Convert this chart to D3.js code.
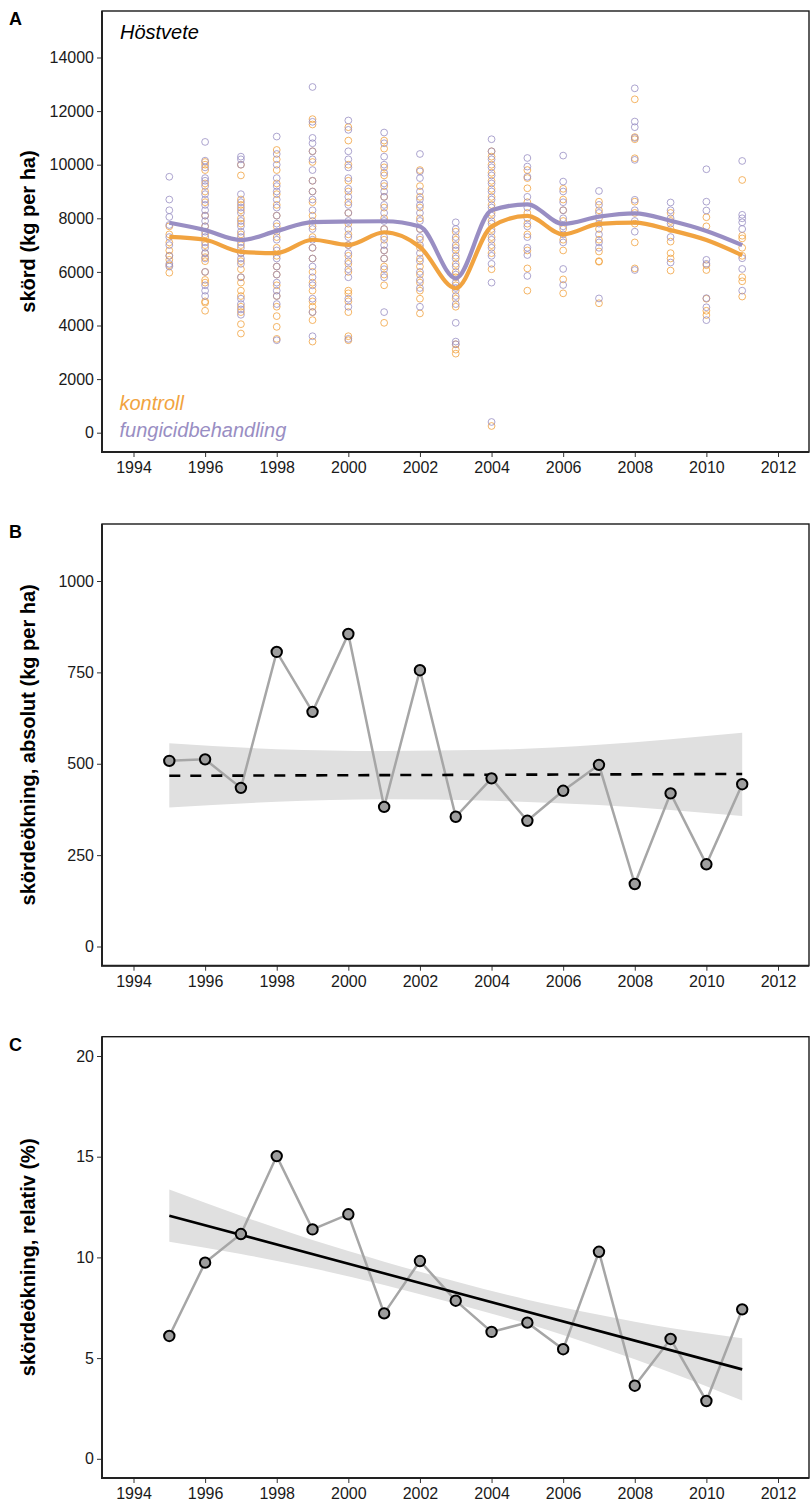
<!DOCTYPE html>
<html>
<head>
<meta charset="utf-8">
<script src="https://cdn.jsdelivr.net/npm/d3@7"></script>
<style>
  body { margin: 0; background: #fff; }
  svg text { font-family: 'Liberation Sans', Arial, sans-serif; }
</style>
</head>
<body>
<div id="chart"></div>
<script>
const years = [1995, 1996, 1997, 1998, 1999, 2000, 2001, 2002, 2003, 2004, 2005, 2006, 2007, 2008, 2009, 2010, 2011];
const yearTicks = [1994, 1996, 1998, 2000, 2002, 2004, 2006, 2008, 2010, 2012];

// panel A: single field trials, kg per ha (one list per year)
const kontrollYield = [
  [7700, 7400, 7100, 6800, 6600, 6450, 6250, 5970],
  [10100, 10000, 9800, 9300, 9000, 8600, 8100, 7700, 7400, 7000, 6700, 6550, 6400, 6000, 5700, 5600, 4900, 4850, 4550],
  [10000, 9600, 8700, 8500, 8300, 8000, 7800, 7400, 7000, 6700, 6400, 6100, 5800, 5600, 5300, 5100, 4700, 4500, 4050, 3700],
  [10550, 10200, 9800, 9300, 8900, 8500, 8100, 7700, 7300, 6900, 6600, 6200, 5900, 5500, 5100, 4700, 4350, 3950, 3500],
  [11700, 11500, 10500, 10100, 9400, 9000, 8600, 8100, 7700, 7300, 6900, 6500, 6000, 5600, 5300, 4900, 4700, 4500, 4200, 3400],
  [11400, 10900, 10000, 9400, 9000, 8600, 8200, 7800, 7400, 7000, 6600, 6300, 6000, 5300, 5200, 4900, 4500, 3600, 3450],
  [10900, 10600, 9900, 9600, 9200, 8800, 8400, 8000, 7600, 7200, 6800, 6500, 6200, 5900, 5500, 4100],
  [9800, 9200, 8800, 8400, 8000, 7600, 7200, 6900, 6500, 6200, 5900, 5600, 5300, 5000, 4450],
  [7500, 7200, 6900, 6600, 6300, 6000, 5800, 5500, 5300, 5000, 4700, 3300, 3100, 2950],
  [10500, 10300, 10000, 9700, 9400, 9100, 8800, 8500, 8200, 7900, 7600, 7300, 7000, 6700, 6100, 250],
  [9800, 9500, 9120, 8600, 8200, 7800, 7400, 6800, 6130, 5300],
  [9100, 8700, 8300, 7900, 7600, 7200, 6800, 5720, 5200],
  [8620, 8300, 8000, 7600, 7200, 6760, 6400, 6380, 4830],
  [12440, 11030, 10950, 10240, 8620, 8200, 7800, 7100, 6130],
  [8200, 7900, 7600, 7130, 6700, 6500, 6050],
  [8040, 7700, 6250, 6070, 5000, 4550, 4390],
  [9430, 7350, 7250, 6900, 6600, 5800, 5650, 5080]
];
const fungicidYield = [
  [9550, 8700, 8300, 8050, 7750, 7300, 7000, 6600, 6300, 6200],
  [10850, 10150, 9900, 9500, 9400, 9200, 8900, 8700, 8500, 8300, 8100, 7900, 7700, 7500, 7300, 7100, 6900, 6700, 6500, 6000, 5500, 5300, 5100],
  [10300, 10200, 10000, 8900, 8600, 8400, 8200, 7900, 7700, 7500, 7300, 7100, 6900, 6700, 6500, 6300, 5800, 5000, 4800, 4600, 4400],
  [11050, 10400, 10000, 9500, 9200, 9000, 8700, 8400, 8100, 7800, 7500, 7200, 6800, 6500, 6200, 5900, 5600, 5300, 5100, 4800, 3450],
  [12900, 11600, 11000, 10800, 10500, 10200, 9800, 9400, 9000, 8700, 8300, 7900, 7600, 7200, 6900, 6500, 6200, 5800, 5500, 5000, 4500, 3600],
  [11650, 11300, 10500, 10200, 9900, 9500, 9100, 8800, 8500, 8200, 7900, 7600, 7300, 7000, 6700, 6400, 6100, 5800, 5000, 4700, 3500],
  [11200, 10800, 10300, 10000, 9700, 9300, 9000, 8800, 8500, 8200, 7900, 7600, 7300, 7000, 6800, 6500, 6100, 5800, 4500],
  [10400, 9750, 9500, 9000, 8700, 8500, 8200, 7900, 7600, 7300, 7000, 6700, 6400, 6000, 5700, 5400, 4700],
  [7850, 7600, 7300, 7000, 6800, 6500, 6200, 5900, 5600, 5400, 5100, 4800, 4100, 3400, 3300],
  [10950, 10500, 10200, 9900, 9600, 9300, 9000, 8700, 8400, 8100, 7800, 7500, 7200, 6900, 6600, 6300, 5600, 400],
  [10250, 9930, 9550, 8800, 8400, 8000, 7700, 7300, 6900, 6630, 5850],
  [10340, 9370, 9000, 8600, 8300, 8000, 7700, 7400, 7100, 6110, 5510],
  [9020, 8500, 8200, 7800, 7400, 7100, 6900, 5010],
  [12850, 11610, 11400, 11000, 10180, 8690, 8300, 7900, 7500, 6070],
  [8590, 8300, 8000, 7800, 7300, 6350],
  [9830, 8620, 8290, 6450, 6300, 5020, 4680, 4200],
  [10140, 8130, 8000, 7850, 7600, 6510, 6110, 5300]
];
// smoothed (loess) curves
const kontrollSmooth = [7310, 7200, 6750, 6700, 7200, 7010, 7480, 6930, 5390, 7690, 8090, 7400, 7790, 7840, 7560, 7190, 6620];
const fungicidSmooth = [7835, 7560, 7190, 7530, 7860, 7880, 7890, 7690, 5760, 8300, 8520, 7790, 8060, 8185, 7910, 7530, 7000];
const yieldTicks = [0, 2000, 4000, 6000, 8000, 10000, 12000, 14000];

// panel B: absolute yield increase
const absIncrease = [508, 512, 434, 806, 642, 855, 382, 756, 355, 460, 344, 426, 497, 171, 419, 225, 444];
const absFitYears = [1995, 2011];
const absFit = [467, 472];
const absBandYears = [1995, 1998, 2001, 2004, 2007, 2011];
const absBandLow = [380, 396, 403, 399, 387, 357];
const absBandHigh = [556, 540, 535, 538, 552, 585];
const absTicks = [0, 250, 500, 750, 1000];

// panel C: relative yield increase
const relIncrease = [6.10, 9.74, 11.16, 15.03, 11.39, 12.14, 7.22, 9.82, 7.85, 6.30, 6.76, 5.44, 10.28, 3.63, 5.95, 2.87, 7.42];
const relFitYears = [1995, 2011];
const relFit = [12.07, 4.44];
const relBandYears = [1995, 1997, 1999, 2001, 2003, 2005, 2007, 2009, 2011];
const relBandLow = [10.78, 10.17, 9.46, 8.63, 7.70, 6.70, 5.55, 4.29, 2.89];
const relBandHigh = [13.37, 12.07, 10.86, 9.79, 8.80, 7.90, 7.15, 6.49, 5.99];
const relTicks = [0, 5, 10, 15, 20];

const orange = '#F1A340';
const purple = '#998EC3';
const frameLeft = 102, frameRight = 809;
const tickTextSize = '16px';

const svg = d3.select('#chart').append('svg')
  .attr('width', 810)
  .attr('height', 1501);

const x = d3.scaleLinear().domain([1994, 2012]).range([133.5, 778]);

function panel(top, bottom, y, ticks, letter, title) {
  const g = svg.append('g');

  const yAxis = g.append('g')
    .attr('transform', 'translate(' + frameLeft + ',0)')
    .call(d3.axisLeft(y).tickValues(ticks).tickSize(5).tickPadding(3).tickFormat(d3.format('d')));
  yAxis.select('.domain').remove();
  yAxis.selectAll('line').attr('stroke', '#333');
  yAxis.selectAll('text').style('font-size', tickTextSize).attr('fill', '#1a1a1a');

  const xAxis = g.append('g')
    .attr('transform', 'translate(0,' + bottom + ')')
    .call(d3.axisBottom(x).tickValues(yearTicks).tickSize(5).tickPadding(5).tickFormat(d3.format('d')));
  xAxis.select('.domain').remove();
  xAxis.selectAll('line').attr('stroke', '#333');
  xAxis.selectAll('text').style('font-size', tickTextSize).attr('fill', '#1a1a1a');

  g.append('text')
    .text(letter)
    .attr('x', 9)
    .attr('y', top + 14)
    .style('font-size', '18px')
    .style('font-weight', 'bold');

  g.append('text')
    .text(title)
    .attr('transform', 'translate(34.5,' + ((top + bottom) / 2) + ') rotate(-90)')
    .style('text-anchor', 'middle')
    .style('font-size', '20px')
    .style('font-weight', 'bold');

  const plot = g.append('g');

  // frame drawn last by caller
  g.frame = function () {
    g.append('rect')
      .attr('x', frameLeft)
      .attr('y', top)
      .attr('width', frameRight - frameLeft)
      .attr('height', bottom - top)
      .attr('fill', 'none')
      .attr('stroke', '#1a1a1a')
      .attr('stroke-width', 1.4);
    g.append('path')
      .attr('d', 'M' + frameLeft + ',' + top + 'V' + bottom + 'H' + frameRight)
      .attr('fill', 'none')
      .attr('stroke', '#222')
      .attr('stroke-width', 2);
  };
  g.plot = plot;
  return g;
}

// ---- Panel A
const yA = d3.scaleLinear().domain([0, 14000]).range([432.7, 57.5]);
const pA = panel(11, 452, yA, yieldTicks, 'A', 'skörd (kg per ha)');

const pointsA = [];
years.forEach(function (yr, i) {
  kontrollYield[i].forEach(function (v) { pointsA.push({ year: yr, v: v, c: orange }); });
  fungicidYield[i].forEach(function (v) { pointsA.push({ year: yr, v: v, c: purple }); });
});

pA.plot.selectAll('circle.obs')
  .data(pointsA)
  .enter()
  .append('circle')
  .attr('class', 'obs')
  .attr('cx', function (d) { return x(d.year); })
  .attr('cy', function (d) { return yA(d.v); })
  .attr('r', 3.4)
  .attr('fill', 'none')
  .attr('stroke', function (d) { return d.c; })
  .attr('stroke-width', 1)
  .attr('stroke-opacity', 0.8);

const smoothLine = d3.line()
  .x(function (d, i) { return x(years[i]); })
  .y(function (d) { return yA(d); })
  .curve(d3.curveMonotoneX);

pA.plot.append('path')
  .datum(kontrollSmooth)
  .attr('fill', 'none')
  .attr('stroke', orange)
  .attr('stroke-width', 4.2)
  .attr('d', smoothLine);

pA.plot.append('path')
  .datum(fungicidSmooth)
  .attr('fill', 'none')
  .attr('stroke', purple)
  .attr('stroke-width', 4.2)
  .attr('d', smoothLine);

pA.append('text')
  .text('Höstvete')
  .attr('x', 120)
  .attr('y', 39)
  .style('font-size', '20px')
  .style('font-style', 'italic');

pA.append('text')
  .text('kontroll')
  .attr('x', 119.5)
  .attr('y', 409.5)
  .attr('fill', orange)
  .style('font-size', '20px')
  .style('font-style', 'italic');

pA.append('text')
  .text('fungicidbehandling')
  .attr('x', 119.5)
  .attr('y', 437)
  .attr('fill', purple)
  .style('font-size', '20px')
  .style('font-style', 'italic');

pA.frame();

// ---- Panel B and C share the same look
function increasePanel(top, bottom, y, ticks, letter, title, values, bandYears, low, high, fitYears, fit, dashed) {
  const p = panel(top, bottom, y, ticks, letter, title);

  p.plot.append('path')
    .datum(bandYears)
    .attr('fill', '#E0E0E0')
    .attr('d', d3.area()
      .x(function (d) { return x(d); })
      .y0(function (d, i) { return y(low[i]); })
      .y1(function (d, i) { return y(high[i]); })
      .curve(d3.curveMonotoneX));

  p.plot.append('path')
    .datum(values)
    .attr('fill', 'none')
    .attr('stroke', '#A6A6A6')
    .attr('stroke-width', 2.5)
    .attr('d', d3.line()
      .x(function (d, i) { return x(years[i]); })
      .y(function (d) { return y(d); }));

  p.plot.append('path')
    .datum(fitYears)
    .attr('fill', 'none')
    .attr('stroke', '#000')
    .attr('stroke-width', 2.6)
    .attr('stroke-dasharray', dashed ? '11,10' : null)
    .attr('d', d3.line()
      .x(function (d) { return x(d); })
      .y(function (d, i) { return y(fit[i]); }));

  p.plot.selectAll('circle.pt')
    .data(values)
    .enter()
    .append('circle')
    .attr('class', 'pt')
    .attr('cx', function (d, i) { return x(years[i]); })
    .attr('cy', function (d) { return y(d); })
    .attr('r', 5.2)
    .attr('fill', '#9E9E9E')
    .attr('stroke', '#000')
    .attr('stroke-width', 2);

  p.frame();
}

const yB = d3.scaleLinear().domain([0, 1000]).range([946.5, 581]);
increasePanel(524, 965.7, yB, absTicks, 'B', 'skördeökning, absolut (kg per ha)',
  absIncrease, absBandYears, absBandLow, absBandHigh, absFitYears, absFit, true);

const yC = d3.scaleLinear().domain([0, 20]).range([1458.8, 1056]);
increasePanel(1036.7, 1478, yC, relTicks, 'C', 'skördeökning, relativ (%)',
  relIncrease, relBandYears, relBandLow, relBandHigh, relFitYears, relFit, false);
</script>
</body>
</html>
